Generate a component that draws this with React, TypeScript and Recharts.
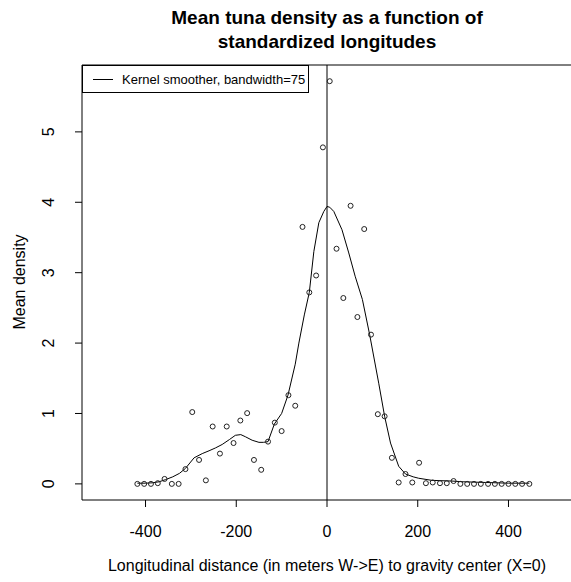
import { ComposedChart, Line, Scatter, XAxis, YAxis, ReferenceLine, ReferenceArea } from "recharts";

// observed mean densities, one per longitude cell
const pointX = [
  -418, -403, -388, -373, -358, -342, -327, -312, -297, -282, -267, -252, -236, -221, -206, -191,
  -176, -161, -145, -130, -115, -100, -85, -70, -54, -39, -24, -9, 6, 21, 36, 52, 67, 82, 97, 112,
  127, 143, 158, 173, 188, 203, 218, 233, 249, 264, 279, 294, 309, 324, 339, 355, 370, 385, 400,
  415, 430, 446,
];
const pointY = [
  0, 0, 0, 0.01, 0.07, 0, 0, 0.21, 1.02, 0.34, 0.05, 0.815, 0.43, 0.815, 0.58, 0.9, 1.005, 0.34,
  0.2, 0.6, 0.87, 0.75, 1.26, 1.11, 3.65, 2.72, 2.96, 4.78, 5.72, 3.34, 2.64, 3.95, 2.37, 3.62,
  2.12, 0.99, 0.96, 0.37, 0.02, 0.14, 0.02, 0.3, 0.01, 0.02, 0.01, 0.01, 0.04, 0, 0, 0, 0, 0, 0,
  0, 0, 0, 0, 0,
];

// kernel smoother
const curveX = [
  -418, -400, -385, -370, -356, -340, -325, -312, -293, -275, -260, -246, -231, -215, -202, -190,
  -180, -165, -150, -140, -130, -116, -100, -86, -70, -62, -50, -39, -29, -18, -7, 0, 6, 15, 33,
  48, 62, 78, 94, 114, 127, 140, 158, 173, 190, 202, 231, 275, 300, 350, 400, 446,
];
const curveY = [
  0.01, 0.01, 0.015, 0.03, 0.06, 0.1, 0.15, 0.22, 0.37, 0.43, 0.47, 0.51, 0.56, 0.63, 0.69, 0.7,
  0.67, 0.62, 0.59, 0.59, 0.6, 0.85, 1.0, 1.26, 1.7, 2.0, 2.4, 2.72, 3.3, 3.71, 3.87, 3.94, 3.93,
  3.87, 3.61, 3.28, 2.95, 2.62, 2.12, 1.43, 0.96, 0.58, 0.25, 0.14, 0.1, 0.08, 0.05, 0.04, 0.03,
  0.02, 0.01, 0.01,
];

const xTicks = [-400, -200, 0, 200, 400];
const yTicks = [0, 1, 2, 3, 4, 5];

const points = pointX.map((x, i) => ({ x, y: pointY[i] }));
const curve = curveX.map((x, i) => ({ x, y: curveY[i] }));

const font = "Arial, 'Liberation Sans', sans-serif";

const YTick = (props: any) => {
  const { x, y, payload } = props;
  return (
    <text
      x={x}
      y={y}
      transform={`rotate(-90, ${x}, ${y})`}
      textAnchor="middle"
      dominantBaseline="central"
      fontSize={16}
      fontFamily={font}
      fill="#000"
    >
      {payload.value}
    </text>
  );
};

const Ring = (props: any) => (
  <circle cx={props.cx} cy={props.cy} r={2.5} fill="none" stroke="#222" strokeWidth={1} />
);

export default function App() {
  return (
    <div
      style={{
        position: "absolute",
        left: 0,
        top: 0,
        width: 571,
        height: 582,
        overflow: "hidden",
        background: "#fff",
        fontFamily: font,
      }}
    >
      <div
        style={{
          position: "absolute",
          left: 0,
          width: 654,
          top: 6,
          textAlign: "center",
          fontWeight: "bold",
          fontSize: 19,
          lineHeight: "24px",
        }}
      >
        Mean tuna density as a function of
        <br />
        standardized longitudes
      </div>

      <ComposedChart width={580} height={582} margin={{ top: 65, right: 8, bottom: 0, left: 0 }}>
        <XAxis
          type="number"
          dataKey="x"
          domain={[-540, 540]}
          ticks={xTicks}
          axisLine={false}
          tickSize={7}
          tickMargin={19}
          tick={{ fontSize: 16, fill: "#000", fontFamily: font }}
          tickLine={{ stroke: "#000" }}
          height={82}
          allowDataOverflow
        />
        <YAxis
          type="number"
          dataKey="y"
          domain={[-0.229, 5.95]}
          ticks={yTicks}
          axisLine={false}
          tickSize={7}
          tickMargin={26}
          tick={<YTick />}
          tickLine={{ stroke: "#000" }}
          width={82}
          allowDataOverflow
        />
        <ReferenceArea x1={-540} x2={540} y1={-0.229} y2={5.95} fill="none" stroke="#000" strokeWidth={1} />
        <ReferenceLine x={0} stroke="#000" strokeWidth={1} />
        <Line
          data={curve}
          dataKey="y"
          type="linear"
          stroke="#000"
          strokeWidth={1}
          dot={false}
          activeDot={false}
          isAnimationActive={false}
        />
        <Scatter data={points} dataKey="y" shape={<Ring />} isAnimationActive={false} />
      </ComposedChart>

      <div
        style={{
          position: "absolute",
          left: 82,
          top: 65,
          width: 227,
          height: 28,
          boxSizing: "border-box",
          border: "1px solid #000",
          background: "#fff",
          fontSize: 13,
          display: "flex",
          alignItems: "center",
        }}
      >
        <div style={{ width: 20, height: 0, borderTop: "1px solid #000", marginLeft: 10, marginRight: 9 }} />
        <span>Kernel smoother, bandwidth=75</span>
      </div>

      <div
        style={{
          position: "absolute",
          left: 12,
          top: 282,
          transform: "translate(-50%, -50%) rotate(-90deg)",
          marginLeft: 8,
          fontSize: 16,
          whiteSpace: "nowrap",
        }}
      >
        Mean density
      </div>

      <div
        style={{
          position: "absolute",
          left: 0,
          width: 654,
          top: 557,
          textAlign: "center",
          fontSize: 16,
          whiteSpace: "nowrap",
        }}
      >
        Longitudinal distance (in meters W-&gt;E) to gravity center (X=0)
      </div>
    </div>
  );
}
